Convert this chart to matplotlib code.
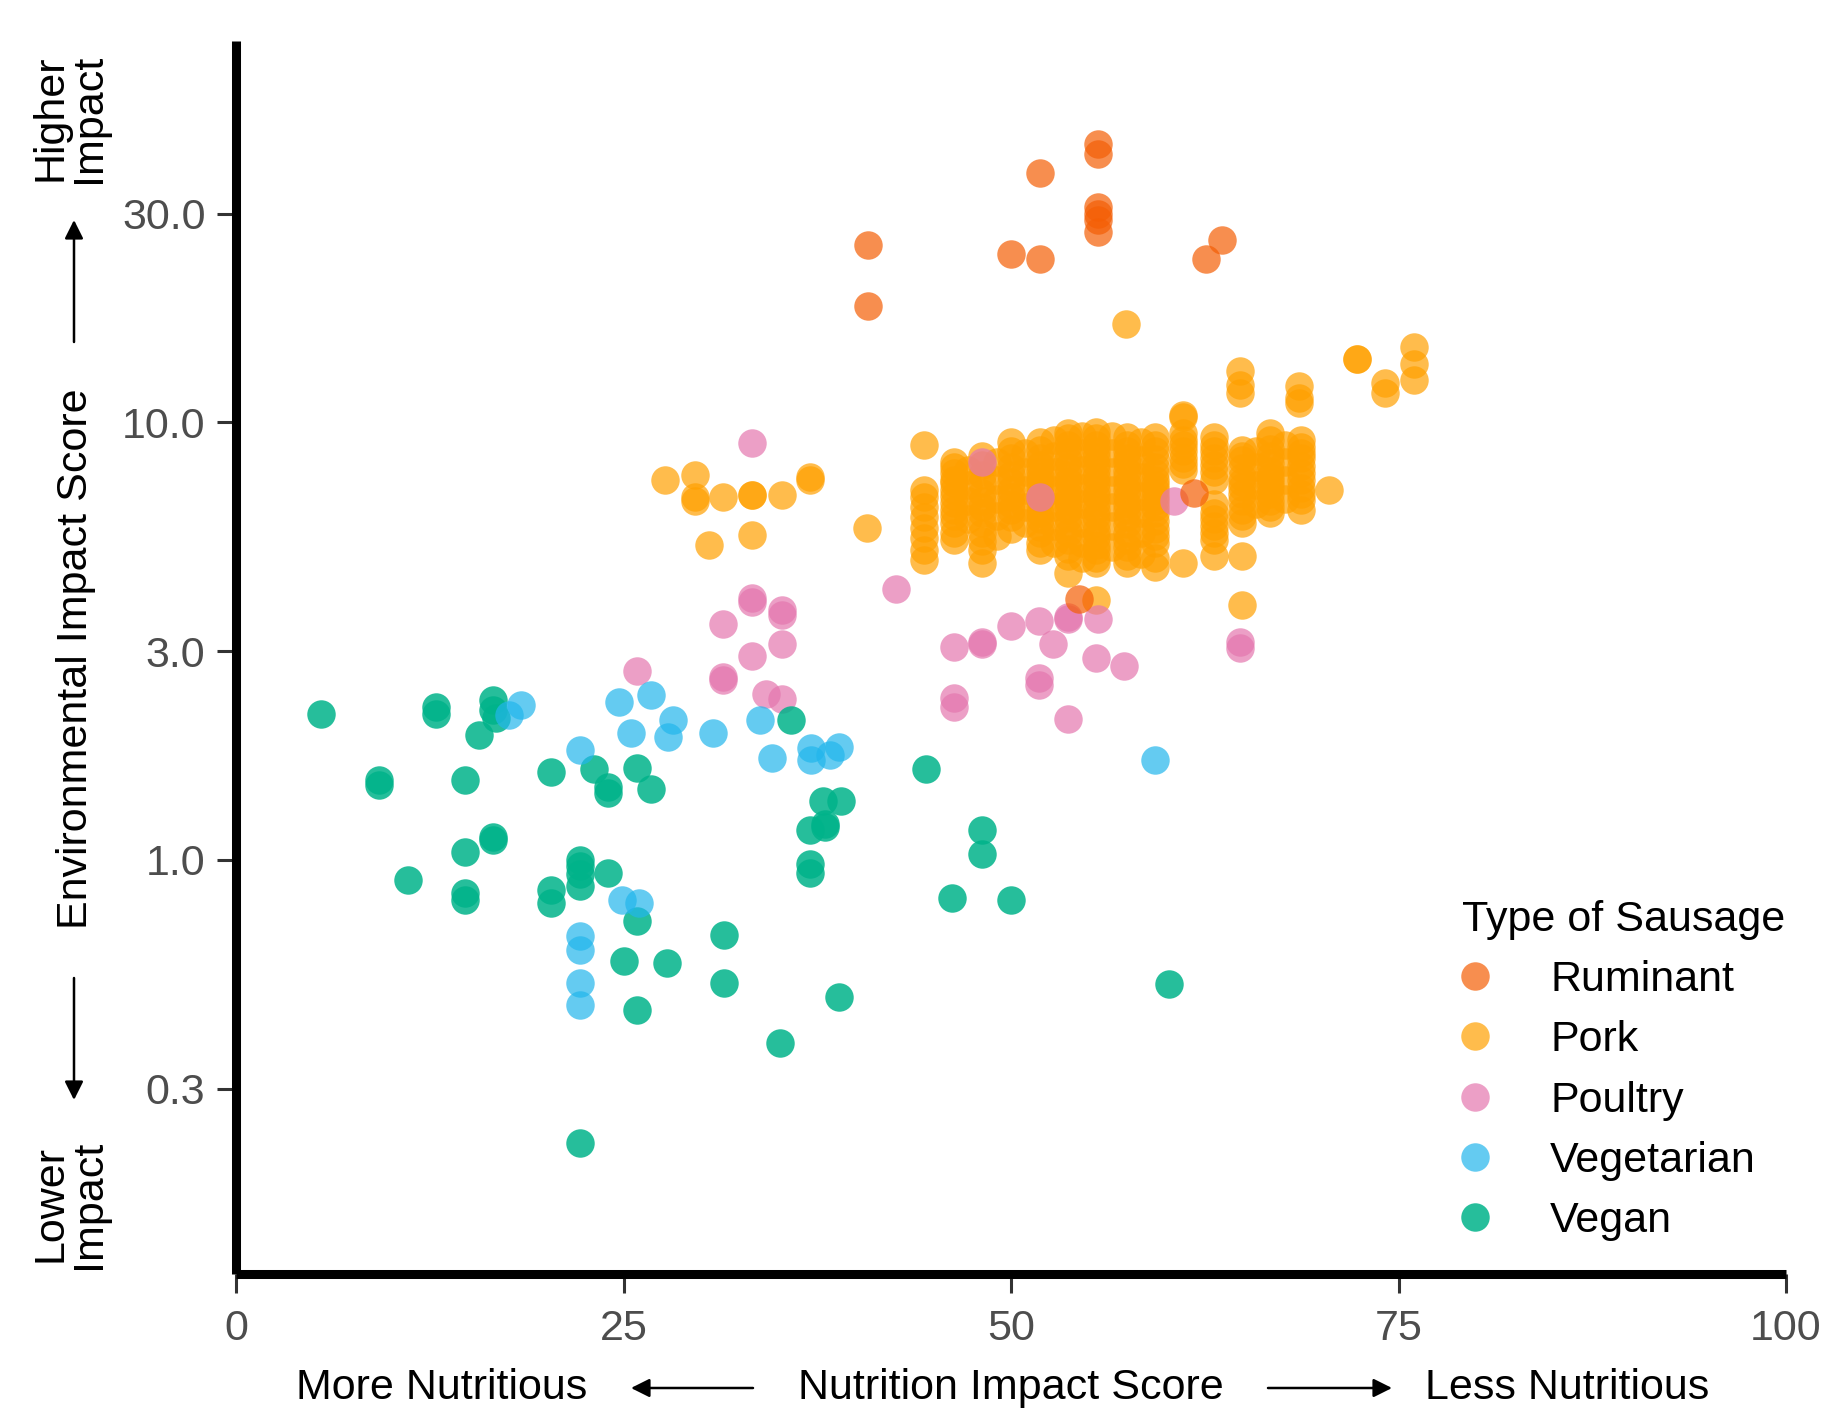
import matplotlib
matplotlib.use("Agg")
import matplotlib.pyplot as plt
from matplotlib.lines import Line2D
from matplotlib.patches import FancyArrowPatch

plt.rcParams['font.family'] = ['Liberation Sans', 'DejaVu Sans']

# ---------------- data ----------------
categories = ["Ruminant", "Pork", "Poultry", "Vegetarian", "Vegan"]
colors = {"Ruminant": "#F45E05", "Pork": "#FFA000", "Poultry": "#E477AE",
          "Vegetarian": "#22B6EC", "Vegan": "#00B38A"}
alphas = {"Ruminant": 0.7, "Pork": 0.7, "Poultry": 0.7, "Vegetarian": 0.7, "Vegan": 0.85}

ruminant_x = [40.8, 40.8, 51.9, 50.0, 51.9, 55.6, 55.6, 55.6, 55.6, 55.6, 55.6,
              62.6, 63.6, 61.8, 54.4]
ruminant_y = [25.4, 18.5, 37.1, 24.3, 23.7, 43.4, 41.0, 31.1, 30.0, 29.0, 27.3,
              23.7, 26.1, 6.9, 3.95]

# Pork: scattered points outside the main block
pork_extra_x = [27.7, 29.6, 29.6, 29.6, 31.4, 33.3, 33.3, 35.2, 37.0, 37.0, 30.5, 33.3, 40.7,
                57.4, 64.8, 64.8, 64.8, 68.6, 68.6, 68.6, 72.3, 72.3, 74.1, 74.1,
                76.0, 76.0, 76.0, 61.1, 70.5]
pork_extra_y = [7.39, 7.58, 6.77, 6.6, 6.77, 6.82, 6.82, 6.82, 7.39, 7.5, 5.25, 5.53, 5.73,
                16.8, 13.1, 12.2, 11.65, 12.1, 11.4, 11.1, 14.0, 14.0, 12.3, 11.65,
                14.9, 13.6, 12.5, 10.3, 7.01]

# Pork: main block, one list of scores per nutrition-score column
pork_col_x = [44.4, 46.3, 48.1, 50.0, 51.9, 53.7, 55.5, 57.5, 59.3, 61.1, 63.1, 64.9, 66.7, 68.7,
              47.2, 49.1, 50.9, 52.8, 54.6, 56.5, 58.4, 65.8, 67.7]
pork_col_44 = [8.87, 7.0, 6.77, 6.4, 6.09, 5.75, 5.43, 5.1, 4.85]
pork_col_46 = [8.13, 7.9, 7.65, 7.4, 7.26, 7.0, 6.8, 6.55, 6.31, 6.1, 5.88, 5.58, 5.4]
pork_col_48 = [8.4, 8.0, 7.6, 7.26, 6.9, 6.6, 6.4, 6.2, 5.9, 5.6, 5.35, 5.11, 4.76]
pork_col_50 = [9.0, 8.6, 8.3, 7.92, 7.6, 7.3, 7.0, 6.77, 6.5, 6.3, 6.09, 5.7]
pork_col_52 = [9.0, 8.65, 8.3, 8.0, 7.75, 7.51, 7.3, 7.1, 6.85, 6.65, 6.4, 6.2, 6.0,
               5.78, 5.58, 5.3, 5.1]
pork_col_54 = [9.44, 9.2, 8.9, 8.55, 8.2, 7.9, 7.6, 7.35, 7.13, 6.85, 6.6, 6.45, 6.31,
               6.05, 5.8, 5.6, 5.39, 5.15, 4.94, 4.52]
pork_col_56 = [9.52, 9.2, 8.9, 8.6, 8.35, 8.05, 7.8, 7.5, 7.26, 7.0, 6.8, 6.55, 6.31,
               6.1, 5.9, 5.65, 5.48, 5.25, 5.1, 4.9, 4.76, 3.93]
pork_col_58 = [9.27, 8.9, 8.6, 8.3, 8.06, 7.75, 7.5, 7.25, 7.01, 6.75, 6.5, 6.3, 6.09,
               5.85, 5.6, 5.4, 5.2, 4.95, 4.76]
pork_col_59 = [9.27, 8.9, 8.6, 8.25, 7.92, 7.65, 7.4, 7.2, 7.01, 6.8, 6.6, 6.4, 6.2,
               5.95, 5.7, 5.5, 5.29, 4.9, 4.68]
pork_col_61 = [10.4, 9.44, 9.1, 8.9, 8.6, 8.3, 8.05, 7.78, 4.76]
pork_col_63 = [9.27, 8.9, 8.6, 8.3, 8.0, 7.7, 7.4, 6.5, 6.2, 6.0, 5.8, 5.6, 5.4, 4.94]
pork_col_65 = [8.65, 8.4, 8.2, 7.85, 7.5, 7.3, 7.13, 6.85, 6.6, 6.31, 6.1, 5.9, 4.94, 3.83]
pork_col_67 = [9.44, 9.1, 8.7, 8.4, 8.06, 7.75, 7.5, 7.3, 7.13, 6.85, 6.6, 6.4, 6.2]
pork_col_69 = [9.1, 8.8, 8.5, 8.3, 7.95, 7.65, 7.4, 7.1, 6.85, 6.65, 6.3]
pork_col_47 = [7.8, 7.2, 6.6, 6.0]
pork_col_49 = [8.1, 7.4, 6.7, 6.1, 5.5]
pork_col_51 = [8.5, 7.7, 7.0, 6.4, 5.9]
pork_col_53 = [9.1, 8.4, 7.7, 7.0, 6.4, 5.8, 5.3]
pork_col_55 = [9.3, 8.5, 7.8, 7.1, 6.5, 5.9, 5.3, 4.9]
pork_col_57 = [9.3, 8.5, 7.7, 7.0, 6.4, 5.8, 5.2]
pork_col_58b = [9.0, 8.2, 7.5, 6.8, 6.2, 5.6, 5.0]
pork_col_66 = [8.6, 7.9, 7.2, 6.5]
pork_col_68 = [8.9, 8.1, 7.4, 6.7]
pork_col_y = [pork_col_44, pork_col_46, pork_col_48, pork_col_50, pork_col_52, pork_col_54,
              pork_col_56, pork_col_58, pork_col_59, pork_col_61, pork_col_63, pork_col_65,
              pork_col_67, pork_col_69,
              pork_col_47, pork_col_49, pork_col_51, pork_col_53, pork_col_55, pork_col_57,
              pork_col_58b, pork_col_66, pork_col_68]

pork_x = list(pork_extra_x)
pork_y = list(pork_extra_y)
for cx, cy in zip(pork_col_x, pork_col_y):
    pork_x += [cx] * len(cy)
    pork_y += cy

poultry_x = [33.3, 42.6, 33.3, 33.3, 35.2, 35.2, 31.4, 35.2, 33.3, 31.4, 31.4, 34.2, 35.2,
             25.9, 46.3, 48.1, 48.1, 50.0, 51.8, 52.7, 53.7, 53.7, 55.6, 55.5, 57.3,
             51.8, 51.8, 53.7, 46.3, 46.3, 64.8, 64.8, 60.5, 48.1, 51.9]
poultry_y = [8.96, 4.16, 3.96, 3.88, 3.73, 3.62, 3.46, 3.12, 2.92, 2.58, 2.62, 2.39, 2.33,
             2.7, 3.06, 3.15, 3.12, 3.43, 3.52, 3.12, 3.55, 3.6, 3.55, 2.9, 2.78,
             2.61, 2.51, 2.1, 2.35, 2.24, 3.15, 3.05, 6.6, 8.13, 6.77]

vegetarian_x = [17.6, 18.4, 22.2, 24.7, 25.5, 26.8, 27.9, 28.2, 30.8, 33.8, 34.6, 37.1,
                37.1, 38.3, 38.9, 59.3, 24.9, 26.0, 22.2, 22.2, 22.2, 22.2]
vegetarian_y = [2.14, 2.26, 1.78, 2.30, 1.95, 2.38, 1.91, 2.09, 1.95, 2.09, 1.71, 1.8,
                1.69, 1.74, 1.81, 1.69, 0.81, 0.796, 0.668, 0.623, 0.523, 0.466]

vegan_x = [5.5, 12.9, 12.9, 16.6, 16.6, 16.8, 15.7, 9.2, 9.2, 14.8, 20.3, 23.1, 24.0, 24.0,
           25.9, 26.8, 16.6, 16.6, 14.8, 11.1, 14.8, 14.8, 22.2, 22.2, 22.2, 22.2, 24.0,
           20.3, 20.3, 25.9, 25.0, 27.8, 25.9, 31.5, 31.5, 38.9, 35.1, 22.2, 35.8, 44.5,
           37.9, 39.0, 38.0, 38.0, 37.0, 37.0, 37.0, 48.1, 48.1, 46.2, 50.0, 60.2]
vegan_y = [2.15, 2.24, 2.16, 2.32, 2.2, 2.11, 1.93, 1.52, 1.48, 1.52, 1.59, 1.61, 1.47, 1.42,
           1.62, 1.45, 1.13, 1.11, 1.04, 0.90, 0.84, 0.81, 1.0, 0.97, 0.93, 0.87, 0.932,
           0.854, 0.796, 0.723, 0.586, 0.58, 0.454, 0.674, 0.523, 0.487, 0.381, 0.225, 2.09, 1.61,
           1.36, 1.36, 1.19, 1.21, 1.17, 0.98, 0.932, 1.17, 1.03, 0.82, 0.81, 0.52]

series = {"Ruminant": (ruminant_x, ruminant_y), "Pork": (pork_x, pork_y),
          "Poultry": (poultry_x, poultry_y), "Vegetarian": (vegetarian_x, vegetarian_y),
          "Vegan": (vegan_x, vegan_y)}
draw_order = ["Pork", "Poultry", "Ruminant", "Vegan", "Vegetarian"]

x_ticks = [0, 25, 50, 75, 100]
y_ticks = [0.3, 1.0, 3.0, 10.0, 30.0]
y_tick_labels = ["0.3", "1.0", "3.0", "10.0", "30.0"]

# ---------------- figure ----------------
W, H = 1830, 1411
fig = plt.figure(figsize=(W / 100, H / 100), dpi=100)
ax = fig.add_axes([236 / W, 1 - 1274 / H, (1786 - 236) / W, (1274 - 41) / H])

for cat in draw_order:
    xs, ys = series[cat]
    ax.scatter(xs, ys, s=420, color=colors[cat], alpha=alphas[cat], linewidths=0, zorder=3)

ax.set_yscale('log')
ax.set_xlim(0, 100)
ax.set_ylim(0.113, 74.5)
ax.set_xticks(x_ticks)
ax.set_xticklabels([str(t) for t in x_ticks])
ax.set_yticks(y_ticks)
ax.set_yticklabels(y_tick_labels)
ax.minorticks_off()

for s in ['top', 'right']:
    ax.spines[s].set_visible(False)
for s in ['left', 'bottom']:
    ax.spines[s].set_linewidth(6.5)
    ax.spines[s].set_color('black')
    ax.spines[s].set_capstyle('butt')

ax.tick_params(axis='both', which='major', length=14, width=2.2, color='#333333',
               labelsize=31, labelcolor='#4D4D4D')
ax.tick_params(axis='y', pad=8)
ax.tick_params(axis='x', pad=11)

# ---------------- axis titles with arrows ----------------
def fx(px):
    return px / W

def fy(py):
    return 1 - py / H

FS = 31
fig.text(fx(76), fy(659), "Environmental Impact Score", rotation=90, ha='center', va='center',
         fontsize=FS, color='black')
fig.text(fx(70), fy(118), "Higher\nImpact", rotation=90, ha='center', va='center',
         fontsize=FS, color='black', linespacing=0.95, multialignment='center')
fig.text(fx(70), fy(1204), "Lower\nImpact", rotation=90, ha='center', va='center',
         fontsize=FS, color='black', linespacing=0.95, multialignment='center')

arrow_kw = dict(arrowstyle='-|>', lw=1.8, color='black', mutation_scale=28,
                shrinkA=0, shrinkB=0)
fig.add_artist(FancyArrowPatch((fx(74), fy(342)), (fx(74), fy(220)),
                               transform=fig.transFigure, **arrow_kw))
fig.add_artist(FancyArrowPatch((fx(74), fy(978)), (fx(74), fy(1100)),
                               transform=fig.transFigure, **arrow_kw))

fig.text(fx(442), fy(1388), "More Nutritious", ha='center', va='center', fontsize=FS)
fig.text(fx(1011), fy(1388), "Nutrition Impact Score", ha='center', va='center', fontsize=FS)
fig.text(fx(1567), fy(1388), "Less Nutritious", ha='center', va='center', fontsize=FS)
fig.add_artist(FancyArrowPatch((fx(753), fy(1388)), (fx(631), fy(1388)),
                               transform=fig.transFigure, **arrow_kw))
fig.add_artist(FancyArrowPatch((fx(1268), fy(1388)), (fx(1392), fy(1388)),
                               transform=fig.transFigure, **arrow_kw))

# ---------------- legend ----------------
handles = [Line2D([0], [0], marker='o', linestyle='none', markersize=20.5,
                  markerfacecolor=colors[c], markeredgewidth=0, alpha=alphas[c])
           for c in categories]
leg = ax.legend(handles, categories, title="Type of Sausage", loc='upper left',
                bbox_to_anchor=(fx(1462), fy(900)), bbox_transform=fig.transFigure,
                frameon=False, fontsize=FS, title_fontsize=FS, borderpad=0,
                handlelength=0.6, handletextpad=1.45, labelspacing=0.47,
                alignment='left', borderaxespad=0)

fig.savefig("out.png", dpi=100, facecolor='white')
